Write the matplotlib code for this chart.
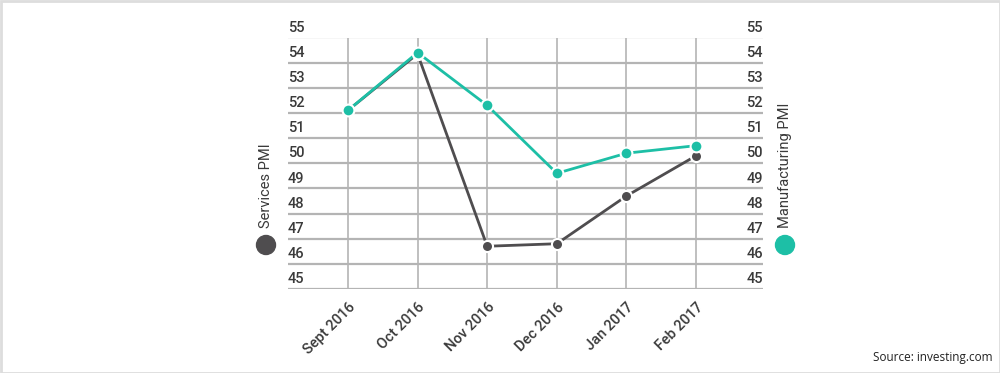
import matplotlib
matplotlib.use('Agg')
import matplotlib.pyplot as plt
import matplotlib.transforms as mtransforms
from matplotlib.patches import Circle, Rectangle

# 데이터
months = ['Sept 2016', 'Oct 2016', 'Nov 2016', 'Dec 2016', 'Jan 2017', 'Feb 2017']
services_pmi = [52.1, 54.35, 46.7, 46.8, 48.7, 50.3]
manufacturing_pmi = [52.1, 54.4, 52.3, 49.6, 50.4, 50.7]
y_ticks = [45, 46, 47, 48, 49, 50, 51, 52, 53, 54, 55]

teal = '#1dbfa6'
dark = '#4f4d4f'
grid_c = '#b4b4b4'
text_c = '#3a3a3a'

W, H = 1000, 373
fig = plt.figure(figsize=(W / 100, H / 100), dpi=100)
ax = fig.add_axes([288 / W, 84 / H, 475 / W, 251.5 / H])

x = list(range(len(months)))
ax.set_xlim(-0.86, 5.96)
ax.set_ylim(45, 55)

# 격자선
for v in y_ticks:
    ax.axhline(v, color=grid_c, lw=1.6, zorder=1)
for xi in x:
    ax.axvline(xi, color=grid_c, lw=1.2, zorder=1)

ax.plot(x, services_pmi, color=dark, lw=2, marker='o', ms=8,
        markeredgecolor='white', markeredgewidth=1.5, zorder=3)
ax.plot(x, manufacturing_pmi, color=teal, lw=2, marker='o', ms=8.5,
        markeredgecolor='white', markeredgewidth=1.5, zorder=4)

for s in ax.spines.values():
    s.set_visible(False)
ax.set_yticks([])
ax.set_xticks(x)
ax.set_xticklabels(months, rotation=45, ha='right', va='top', rotation_mode='anchor',
                   fontsize=10.5, color=text_c, family='Roboto', fontweight='medium')
ax.tick_params(axis='x', length=0, pad=8)

# y축 레이블 (선 위에 표시)
trans = mtransforms.blended_transform_factory(ax.transAxes, ax.transData)
off = mtransforms.offset_copy(trans, fig=fig, x=0, y=2, units='points')
for v in y_ticks:
    ax.text(0.0, v, str(v), transform=off, ha='left', va='bottom', fontsize=10.5,
            color=text_c, family='Roboto', fontweight='medium', clip_on=False)
    ax.text(1.0, v, str(v), transform=off, ha='right', va='bottom', fontsize=10.5,
            color=text_c, family='Roboto', fontweight='medium', clip_on=False)

# 범례 역할의 세로 텍스트
def fx(px):
    return px / W

def fy(py):
    return 1 - py / H

fig.text(fx(266), fy(228), 'Services PMI', rotation=90, ha='center', va='bottom',
         fontsize=10.5, color=text_c, family='Roboto')
fig.text(fx(785), fy(228), 'Manufacturing PMI', rotation=90, ha='center', va='bottom',
         fontsize=10.5, color=text_c, family='Roboto')
fig.patches.append(Circle((266, H - 245), 9.5, transform=None, color=dark))
fig.patches.append(Circle((785, H - 245), 9.5, transform=None, color=teal))

fig.text(fx(993), fy(358), 'Source: investing.com', ha='right', va='center',
         fontsize=8.5, color='#222222', family='Open Sans')

# 테두리
fig.patches.append(Rectangle((0.5, 0.5), W - 1, H - 1.5, transform=None,
                             fill=False, edgecolor='#dddddd', lw=2))

fig.savefig('out.png', dpi=100)
